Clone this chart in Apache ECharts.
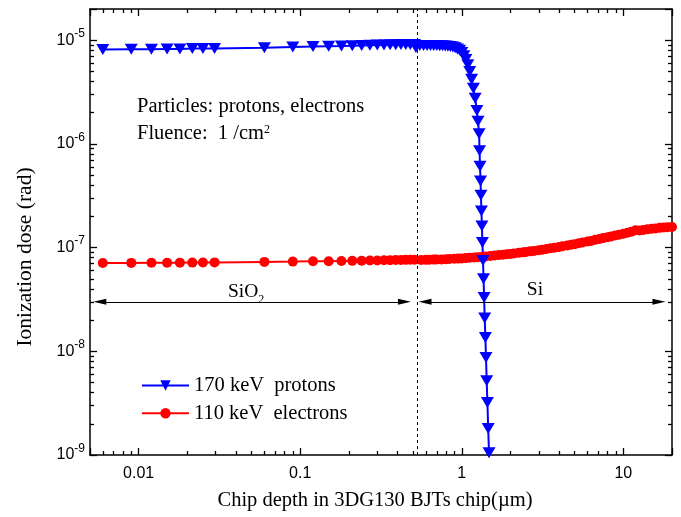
<!DOCTYPE html>
<html><head><meta charset="utf-8">
<script src="https://cdn.jsdelivr.net/npm/echarts@6/dist/echarts.min.js"></script>
<style>html,body{margin:0;padding:0;background:#fff}#c{width:681px;height:517px}</style>
</head><body><div id="c"></div>
<script>
// ---- data ----
const protonX = [0.006,0.009,0.012,0.015,0.018,0.0215,0.025,0.0295,0.06,0.09,0.12,0.15,0.18,0.21,0.24,0.27,0.30,0.33,0.36,0.39,0.42,0.45,0.48,0.51,0.52,
  0.55,0.58,0.61,0.64,0.67,0.70,0.73,0.76,0.79,0.82,0.85,0.88,0.91,0.94,0.97,1.0,1.03,1.06,1.09,1.12,1.15,1.18,1.21,1.24,1.26,
  1.28,1.288,1.297,1.306,1.314,1.323,1.332,1.342,1.353,1.363,1.375,1.386,1.40,1.412,1.426,1.441,1.457,1.474];
const protonY = [8.15e-6,8.2e-6,8.2e-6,8.25e-6,8.25e-6,8.3e-6,8.3e-6,8.3e-6,8.45e-6,8.6e-6,8.7e-6,8.75e-6,8.8e-6,8.85e-6,8.9e-6,8.95e-6,9.0e-6,9.0e-6,9.05e-6,9.05e-6,9.1e-6,9.1e-6,9.1e-6,9.1e-6,8.5e-6,
  8.9e-6,8.9e-6,8.9e-6,8.9e-6,8.9e-6,8.88e-6,8.86e-6,8.84e-6,8.8e-6,8.75e-6,8.7e-6,8.6e-6,8.45e-6,8.25e-6,8.0e-6,7.6e-6,7.1e-6,6.5e-6,5.8e-6,5.0e-6,4.2e-6,3.45e-6,2.75e-6,2.1e-6,1.65e-6,
  1.25e-6,8.6e-7,6.1e-7,4.4e-7,3.2e-7,2.26e-7,1.62e-7,1.12e-7,7.5e-8,5.0e-8,3.3e-8,2.1e-8,1.36e-8,8.7e-9,5.2e-9,3.2e-9,1.8e-9,1.05e-9];

const electronX = [0.006,0.009,0.012,0.015,0.018,0.0215,0.025,0.0295,0.06,0.09,0.12,0.15,0.18,0.21,0.24,0.27,0.30,0.33,0.36,0.39,0.42,0.45,0.48,0.51,
  0.56,0.6,0.63,0.67,0.7,0.75,0.8,0.84,0.9,0.95,1.0,1.06,1.12,1.2,1.26,1.33,1.4,1.5,1.6,1.7,1.8,1.9,2.0,2.1,2.25,2.4,2.5,2.65,2.8,3.0,3.15,3.35,3.55,3.75,
  4.0,4.2,4.5,4.75,5.0,5.3,5.6,6.0,6.3,6.7,7.1,7.5,8.0,8.4,8.9,9.4,10,10.6,11.2,11.9,12.6,13.3,14.1,15,15.8,16.8,17.8,18.8,20];
const electronY = [7.1e-8,7.12e-8,7.14e-8,7.15e-8,7.16e-8,7.17e-8,7.18e-8,7.2e-8,7.28e-8,7.33e-8,7.38e-8,7.4e-8,7.43e-8,7.45e-8,7.48e-8,7.5e-8,7.52e-8,7.54e-8,7.56e-8,7.58e-8,7.6e-8,7.62e-8,7.64e-8,7.65e-8,
  7.6e-8,7.62e-8,7.64e-8,7.66e-8,7.68e-8,7.7e-8,7.73e-8,7.75e-8,7.8e-8,7.83e-8,7.87e-8,7.92e-8,7.97e-8,8.03e-8,8.08e-8,8.14e-8,8.2e-8,8.3e-8,8.38e-8,8.47e-8,8.55e-8,8.63e-8,8.7e-8,8.78e-8,8.9e-8,9.0e-8,9.08e-8,9.2e-8,9.3e-8,9.45e-8,9.56e-8,9.7e-8,9.84e-8,9.98e-8,
  1.015e-7,1.03e-7,1.05e-7,1.065e-7,1.08e-7,1.1e-7,1.12e-7,1.145e-7,1.16e-7,1.19e-7,1.21e-7,1.235e-7,1.26e-7,1.28e-7,1.31e-7,1.33e-7,1.36e-7,1.39e-7,1.42e-7,1.47e-7,1.46e-7,1.48e-7,1.5e-7,1.52e-7,1.53e-7,1.55e-7,1.56e-7,1.57e-7,1.58e-7];

const xTickLabels = [0.01, 0.1, 1, 10];
const yTickLabels = [1e-9, 1e-8, 1e-7, 1e-6, 1e-5];

const interfaceDepth = 0.53;          // SiO2 / Si boundary
const arrowLevel = 3e-8;
const sio2Arrow = [0.00575, 0.4416];
const siArrow = [0.592, 16.6];

const seriesNames = ['170 keV  protons', '110 keV  electrons'];

// ---- chart ----
const SERIF = '"Liberation Serif", "Times New Roman", serif';
const SANS = '"Liberation Sans", Arial, sans-serif';
const X_RANGE = [0.005, 20];
const Y_RANGE = [1e-9, 2e-5];

function axisBase(extra) {
  return Object.assign({
    type: 'log', logBase: 10,
    axisLine: { show: true, onZero: false, lineStyle: { color: '#000', width: 1.5 } },
    axisTick: { show: true, inside: true, length: 7, lineStyle: { color: '#000', width: 1.3 } },
    minorTick: { show: true, splitNumber: 9, length: 4, lineStyle: { color: '#000', width: 1.3 } },
    splitLine: { show: false }, minorSplitLine: { show: false }
  }, extra);
}

const chart = echarts.init(document.getElementById('c'), null, { renderer: 'canvas' });
chart.setOption({
  animation: false,
  backgroundColor: '#fff',
  grid: { left: 90, right: 9, top: 9, bottom: 62 },
  xAxis: [
    axisBase({ min: X_RANGE[0], max: X_RANGE[1], position: 'bottom',
      axisLabel: { show: true, customValues: xTickLabels, margin: 11, color: '#000', fontFamily: SANS, fontSize: 16,
        formatter: v => String(Number(Number(v).toPrecision(3))) } }),
    axisBase({ min: X_RANGE[0], max: X_RANGE[1], position: 'top', axisLabel: { show: false } })
  ],
  yAxis: [
    axisBase({ min: Y_RANGE[0], max: Y_RANGE[1], position: 'left',
      axisLabel: { show: true, customValues: yTickLabels, margin: 5, color: '#000',
        formatter: v => '{b|10}{s|' + Math.round(Math.log10(v)) + '}',
        rich: {
          b: { fontFamily: SANS, fontSize: 16, lineHeight: 17, color: '#000' },
          s: { fontFamily: SANS, fontSize: 12, lineHeight: 11, padding: [0, 0, 13, 0], color: '#000' }
        } } }),
    axisBase({ min: Y_RANGE[0], max: Y_RANGE[1], position: 'right', axisLabel: { show: false } })
  ],
  legend: {
    orient: 'vertical', left: 136, top: 370, itemWidth: 47, itemHeight: 13, itemGap: 6.7,
    data: seriesNames,
    textStyle: { fontFamily: SERIF, fontSize: 20.5, lineHeight: 20, color: '#000' }
  },
  series: [
    {
      name: seriesNames[1], type: 'line', xAxisIndex: 0, yAxisIndex: 0,
      data: electronX.map((x, i) => [x, electronY[i]]),
      symbol: 'circle', symbolSize: 10, showAllSymbol: true,
      itemStyle: { color: '#ff0000' }, lineStyle: { color: '#ff0000', width: 2 },
      markLine: {
        silent: true, animation: false, symbol: ['none', 'none'],
        data: [
          [
            { coord: [interfaceDepth, Y_RANGE[0]], lineStyle: { type: [3, 3], color: '#000', width: 1 }, label: { show: false } },
            { coord: [interfaceDepth, Y_RANGE[1]] }
          ],
          [
            { coord: [sio2Arrow[0], arrowLevel], symbol: 'triangle', symbolSize: [6, 13],
              lineStyle: { type: 'solid', color: '#000', width: 1 },
              label: { show: true, position: 'middle', distance: 0, padding: [0, 12, 0, 0],
                formatter: '{a|SiO}{c|2}',
                rich: { a: { fontFamily: SERIF, fontSize: 19.5, lineHeight: 19, color: '#000' },
                        c: { fontFamily: SERIF, fontSize: 12, lineHeight: 12, padding: [16, 0, 0, 0], color: '#000' } } } },
            { coord: [sio2Arrow[1], arrowLevel], symbol: 'triangle', symbolSize: [6, 13] }
          ],
          [
            { coord: [siArrow[0], arrowLevel], symbol: 'triangle', symbolSize: [6, 13],
              lineStyle: { type: 'solid', color: '#000', width: 1 },
              label: { show: true, position: 'middle', distance: 2, padding: [0, 14, 0, 0],
                formatter: '{a|Si}',
                rich: { a: { fontFamily: SERIF, fontSize: 19.5, lineHeight: 19, color: '#000' } } } },
            { coord: [siArrow[1], arrowLevel], symbol: 'triangle', symbolSize: [6, 13] }
          ]
        ]
      }
    },
    {
      name: seriesNames[0], type: 'line', xAxisIndex: 0, yAxisIndex: 0,
      data: protonX.map((x, i) => [x, protonY[i]]),
      symbol: 'triangle', symbolRotate: 180, symbolSize: [13, 11], showAllSymbol: true,
      itemStyle: { color: '#0000ff' }, lineStyle: { color: '#0000ff', width: 2 }
    }
  ],
  graphic: [
    { type: 'text', x: 137, y: 106.6, silent: true,
      style: { text: 'Particles: protons, electrons', font: '20.5px ' + SERIF, fill: '#000', verticalAlign: 'middle' } },
    { type: 'text', x: 137, y: 133.9, silent: true,
      style: { text: '{a|Fluence:  1 /cm}{s|2}', fill: '#000', verticalAlign: 'middle',
        rich: { a: { fontFamily: SERIF, fontSize: 20.5, lineHeight: 20 }, s: { fontFamily: SERIF, fontSize: 12, lineHeight: 12, padding: [0, 0, 8, 0] } } } },
    { type: 'text', x: 25, y: 257, rotation: Math.PI / 2, silent: true,
      style: { text: 'Ionization dose (rad)', font: '21.5px ' + SERIF, fill: '#000', align: 'center', verticalAlign: 'middle' } },
    { type: 'text', x: 375, y: 501, silent: true,
      style: { text: 'Chip depth in 3DG130 BJTs chip(\u00b5m)', font: '20.5px ' + SERIF, fill: '#000', align: 'center', verticalAlign: 'middle' } }
  ]
});
</script></body></html>
